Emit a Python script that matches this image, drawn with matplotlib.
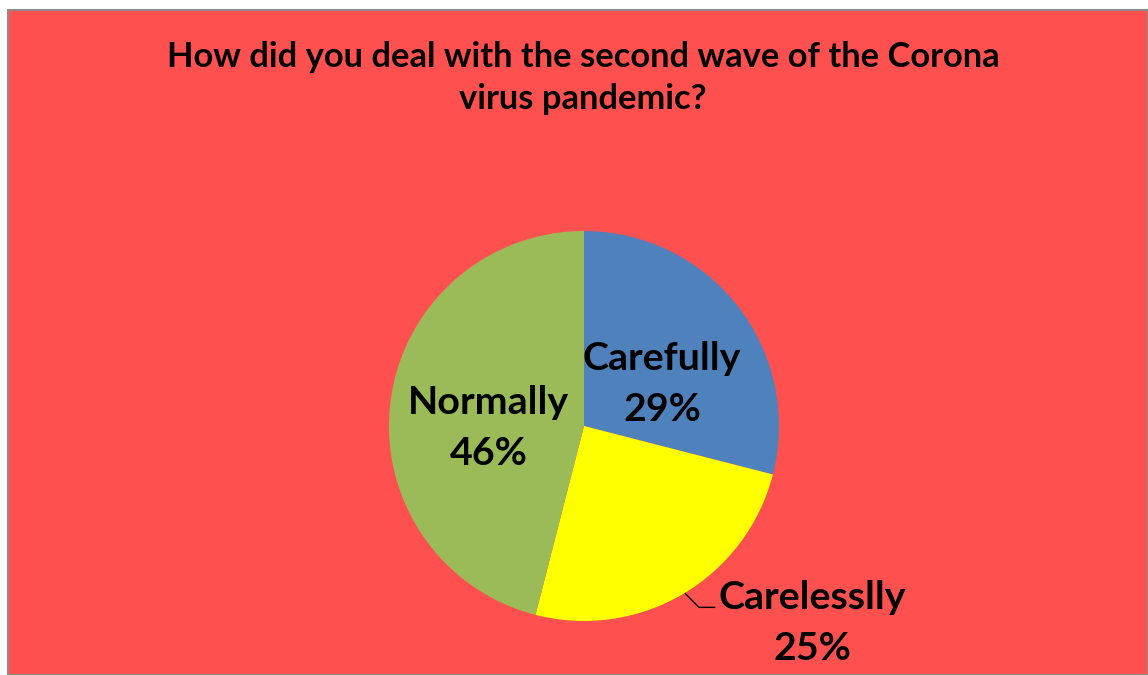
import matplotlib.pyplot as plt
from matplotlib.patches import Rectangle

categories = ['Carefully', 'Carelesslly', 'Normally']
shares = [29, 25, 46]
colors = ['#4F81BD', '#FFFF00', '#9BBB59']
title = 'How did you deal with the second wave of the Corona\nvirus pandemic?'

plt.rcParams['font.family'] = ['Lato', 'DejaVu Sans']

W, H = 1148, 675
fig = plt.figure(figsize=(W / 100, H / 100), dpi=100, facecolor='white')

# chart area background with a thin grey frame
fig.patches.append(Rectangle((8 / W, 0), 1 - 8 / W, 1 - 10 / H, transform=fig.transFigure,
                             facecolor='#FF5050', edgecolor='#8C8C8C', linewidth=1.5,
                             zorder=-1))

fig.text(583 / W, 1 - 78 / H, title, ha='center', va='center', fontsize=24.8,
         fontweight='bold', linespacing=1.4)

# pie centred at (584, 426) with radius ~195 px
cx, cy, r = 584, 426, 195
ax = fig.add_axes([(cx - r) / W, 1 - (cy + r) / H, 2 * r / W, 2 * r / H])
wedges, _ = ax.pie(shares, colors=colors, startangle=90, counterclock=False,
                   wedgeprops=dict(linewidth=0))
ax.set_xlim(-1, 1)
ax.set_ylim(-1, 1)
ax.set_aspect('equal')
ax.axis('off')

label_style = dict(ha='center', va='center', fontsize=28.4, fontweight='bold',
                   linespacing=1.55)
ax.text(0.40, 0.215, f'{categories[0]}\n{shares[0]}%', **label_style)
ax.text(-0.49, -0.01, f'{categories[2]}\n{shares[2]}%', **label_style)
ax.text(1.17, -1.01, f'{categories[1]}\n{shares[1]}%', clip_on=False, **label_style)
ax.plot([0.52, 0.59, 0.67], [-0.86, -0.93, -0.93], color='black', lw=1, clip_on=False)

fig.savefig('out.png', dpi=100, facecolor=fig.get_facecolor())
